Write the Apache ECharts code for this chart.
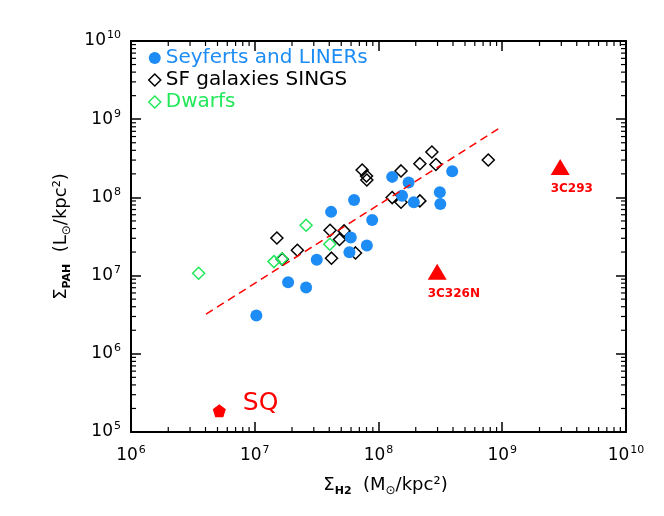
<!DOCTYPE html>
<html><head><meta charset="utf-8">
<script src="https://cdn.jsdelivr.net/npm/echarts@6/dist/echarts.min.js"></script>
<style>html,body{margin:0;padding:0;background:#fff}#c{width:664px;height:516px}</style>
</head><body><div id="c"></div>
<script>
// ---- data ----
const seyfertX = [1.03e7, 1.86e7, 2.60e7, 3.17e7, 4.14e7, 6.35e7, 5.97e7, 5.82e7, 8.05e7, 8.89e7, 1.29e8, 1.55e8, 1.75e8, 1.93e8, 3.13e8, 3.16e8, 3.94e8];
const seyfertY = [3.09e6, 8.24e6, 7.05e6, 1.59e7, 6.53e7, 9.29e7, 3.07e7, 1.99e7, 2.42e7, 5.15e7, 1.83e8, 1.05e8, 1.55e8, 8.67e7, 1.16e8, 8.26e7, 2.16e8];
const singsX = [1.51e7, 1.67e7, 2.21e7, 4.06e7, 4.17e7, 4.84e7, 5.27e7, 6.52e7, 7.38e7, 8.00e7, 8.05e7, 1.29e8, 1.52e8, 1.52e8, 2.16e8, 2.16e8, 2.70e8, 2.91e8, 7.71e8];
const singsY = [3.03e7, 1.62e7, 2.11e7, 3.80e7, 1.67e7, 2.89e7, 3.73e7, 1.95e7, 2.24e8, 1.88e8, 1.67e8, 9.95e7, 8.67e7, 2.18e8, 2.70e8, 9.02e7, 3.81e8, 2.63e8, 3.01e8];
const dwarfX = [3.52e6, 1.43e7, 1.66e7, 2.60e7, 4.04e7];
const dwarfY = [1.07e7, 1.51e7, 1.64e7, 4.41e7, 2.52e7];
const radioNames = ['3C326N', '3C293'];
const radioX = [2.98e8, 2.94e9];
const radioY = [1.12e7, 2.45e8];
const sqNames = ['SQ'];
const sqX = [5.17e6];
const sqY = [1.87e5];
const fitX = [4.04e6, 9.46e8];
const fitY = [3.21e6, 7.66e8];
const legendNames = ['Seyferts and LINERs', 'SF galaxies SINGS', 'Dwarfs'];
const minorMult = [2, 3, 4, 5, 6, 7, 8, 9];
const xDecades = [1e6, 1e7, 1e8, 1e9];
const yDecades = [1e5, 1e6, 1e7, 1e8, 1e9];

// ---- build ----
const FONT = 'DejaVu Sans';
const BLUE = '#1E8CF5';
const GREEN = '#22E85A';
const RED = '#FF0000';
const INK = '#000000';
const zip = (a, b) => a.map((v, i) => [v, b[i]]);
const xMinor = xDecades.flatMap(d => minorMult.map(m => m * d));
const yMinor = yDecades.flatMap(d => minorMult.map(m => m * d));

function powLabel(v) { const e = Math.round(Math.log10(v)); return '{b|10}{s|' + e + '}'; }
function labelRich() {
  return {
    b: { fontSize: 17, fontFamily: FONT, color: '#000', lineHeight: 22 },
    s: { fontSize: 11, fontFamily: FONT, color: '#000', lineHeight: 10, verticalAlign: 'top', padding: [0, 0, 0, 1] }
  };
}
function nameRich() {
  return {
    m: { fontSize: 18, fontFamily: FONT, color: '#000', lineHeight: 24 },
    sub: { fontSize: 11, fontFamily: FONT, color: '#000', lineHeight: 14, verticalAlign: 'bottom', fontWeight: 'bold' },
    od: { fontSize: 12, fontFamily: FONT, color: '#000', lineHeight: 14, verticalAlign: 'bottom' }
  };
}
function baseAxis(extra) {
  return Object.assign({
    type: 'log',
    axisLine: { show: true, onZero: false, lineStyle: { color: '#000', width: 2 } },
    axisTick: { show: true, inside: true, length: 10, lineStyle: { color: INK, width: 1.5 } },
    splitLine: { show: false }
  }, extra);
}
function tickLine(x1, y1, x2, y2) {
  return { type: 'line', shape: { x1: x1, y1: y1, x2: x2, y2: y2 }, style: { stroke: INK, lineWidth: 1.2 } };
}

const option = {
  animation: false,
  grid: { left: 131, right: 38, top: 41, bottom: 84 },
  legend: {
    orient: 'vertical', left: 148, top: 48, itemGap: 2, itemWidth: 12, itemHeight: 12, padding: 0,
    selectedMode: false,
    textStyle: { fontFamily: FONT, fontSize: 20, lineHeight: 20 },
    data: [
      { name: legendNames[0], icon: 'circle', itemStyle: { color: BLUE, opacity: 1 }, textStyle: { color: BLUE } },
      { name: legendNames[1], icon: 'diamond', itemStyle: { color: 'transparent', borderColor: '#000', borderWidth: 1.5 }, textStyle: { color: '#000' } },
      { name: legendNames[2], icon: 'diamond', itemStyle: { color: 'transparent', borderColor: GREEN, borderWidth: 1.5 }, textStyle: { color: GREEN } }
    ]
  },
  xAxis: [
    baseAxis({
      min: 1e6, max: 1e10, position: 'bottom',
      axisLabel: { margin: 13, formatter: powLabel, rich: labelRich(), showMinLabel: true, showMaxLabel: true },
      name: '{m|Σ}{sub|H2}{m|  (M}{od|⊙}{m|/kpc²)}', nameLocation: 'middle', nameGap: 41,
      nameTextStyle: { rich: nameRich(), padding: [0, 0, 0, 14] }
    }),
    baseAxis({ min: 1e6, max: 1e10, position: 'top', axisLabel: { show: false } })
  ],
  yAxis: [
    baseAxis({
      min: 1e5, max: 1e10, position: 'left',
      axisLabel: { margin: 10, formatter: powLabel, rich: labelRich(), showMinLabel: true, showMaxLabel: true },
      name: '{m|Σ}{sub|PAH}{m|  (L}{od|⊙}{m|/kpc²)}', nameLocation: 'middle', nameGap: 58,
      nameTextStyle: { rich: nameRich() }
    }),
    baseAxis({ min: 1e5, max: 1e10, position: 'right', axisLabel: { show: false } })
  ],
  series: [
    {
      type: 'custom', name: 'xminor', silent: true, data: xMinor.map(v => [v, 1e7]),
      renderItem: function (params, api) {
        const x = api.coord([api.value(0), 1e7])[0];
        const cs = params.coordSys; const b = cs.y + cs.height, t = cs.y;
        return { type: 'group', children: [tickLine(x, b, x, b - 5), tickLine(x, t, x, t + 5)] };
      }
    },
    {
      type: 'custom', name: 'yminor', silent: true, data: yMinor.map(v => [1e7, v]),
      renderItem: function (params, api) {
        const y = api.coord([1e7, api.value(1)])[1];
        const cs = params.coordSys; const l = cs.x, r = cs.x + cs.width;
        return { type: 'group', children: [tickLine(l, y, l + 5, y), tickLine(r, y, r - 5, y)] };
      }
    },
    {
      type: 'line', name: 'fit', data: zip(fitX, fitY), symbol: 'none',
      lineStyle: { color: RED, width: 1.5, type: [8, 5] }
    },
    {
      type: 'scatter', name: legendNames[1], data: zip(singsX, singsY), symbol: 'diamond', symbolSize: 12,
      itemStyle: { color: 'transparent', borderColor: '#000', borderWidth: 1.5, opacity: 1 }
    },
    {
      type: 'scatter', name: legendNames[2], data: zip(dwarfX, dwarfY), symbol: 'diamond', symbolSize: 12,
      itemStyle: { color: 'transparent', borderColor: GREEN, borderWidth: 1.5, opacity: 1 }
    },
    {
      type: 'scatter', name: legendNames[0], data: zip(seyfertX, seyfertY), symbol: 'circle', symbolSize: 12,
      itemStyle: { color: BLUE, opacity: 1 }
    },
    {
      type: 'scatter', name: 'radio', data: zip(radioX, radioY), symbol: 'triangle', symbolSize: [19, 16],
      itemStyle: { color: RED, opacity: 1 },
      label: {
        show: true, formatter: p => radioNames[p.dataIndex], position: [0, 24], align: 'left', verticalAlign: 'top',
        color: RED, fontWeight: 'bold', fontSize: 12, fontFamily: FONT
      }
    },
    {
      type: 'scatter', name: 'sq', data: zip(sqX, sqY),
      symbol: 'path://M0,-1 L0.951,-0.309 L0.588,0.809 L-0.588,0.809 L-0.951,-0.309 Z', symbolSize: 13,
      itemStyle: { color: RED, opacity: 1 },
      label: {
        show: true, formatter: p => sqNames[p.dataIndex], position: [30, -1], align: 'left', verticalAlign: 'middle',
        color: RED, fontSize: 25, fontFamily: FONT
      }
    }
  ]
};
const chart = echarts.init(document.getElementById('c'));
chart.setOption(option);
</script>
</body></html>
